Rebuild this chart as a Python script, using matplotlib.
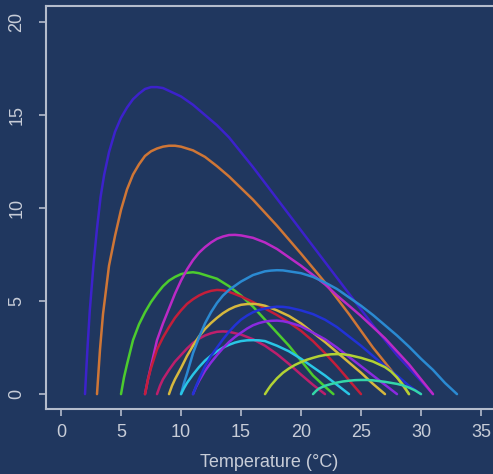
import matplotlib.pyplot as plt

plt.rcParams['font.family'] = ['Liberation Sans', 'DejaVu Sans']

bg = '#20375f'
fg = '#b4bccc'

# thermal performance curves, performance read at each temperature (deg C)
indigo_t = [2, 2.2, 2.4, 2.7, 3, 3.3, 3.6, 4, 4.5, 5, 5.5, 6, 6.5, 7, 7.5, 8, 8.5, 9, 10, 11, 12, 13, 14, 16, 18, 20, 22, 24, 26, 28, 29, 30, 31]
indigo_p = [0, 2.4, 4.5, 6.9, 8.9, 10.6, 11.8, 13.0, 14.1, 14.85, 15.4, 15.85, 16.15, 16.4, 16.5, 16.5, 16.45, 16.3, 16.0, 15.55, 15.0, 14.45, 13.8, 12.2, 10.5, 8.8, 7.1, 5.4, 3.7, 2.1, 1.4, 0.7, 0]

orange_t = [3, 3.25, 3.5, 4, 4.5, 5, 5.5, 6, 6.5, 7, 7.5, 8, 8.5, 9, 9.5, 10, 11, 12, 13, 14, 16, 18, 20, 22, 24, 26, 28, 29]
orange_p = [0, 2.4, 4.3, 6.9, 8.5, 9.9, 11.0, 11.8, 12.35, 12.8, 13.05, 13.2, 13.3, 13.35, 13.35, 13.3, 13.1, 12.75, 12.25, 11.7, 10.45, 9.05, 7.55, 6.0, 4.3, 2.5, 0.9, 0]

green_t = [5, 5.25, 5.5, 6, 6.5, 7, 7.5, 8, 8.5, 9, 9.5, 10, 10.5, 11, 11.5, 12, 13, 14, 15, 16, 17, 18, 19, 20, 21, 22, 22.7]
green_p = [0, 0.9, 1.6, 2.9, 3.75, 4.4, 4.95, 5.4, 5.8, 6.1, 6.3, 6.45, 6.52, 6.55, 6.5, 6.4, 6.2, 5.8, 5.3, 4.7, 4.0, 3.3, 2.6, 1.8, 1.0, 0.4, 0]

magenta_t = [7, 7.25, 7.5, 8, 8.5, 9, 9.5, 10, 10.5, 11, 11.5, 12, 12.5, 13, 13.5, 14, 14.5, 15, 16, 17, 18, 19, 20, 21, 22, 23, 24, 25, 26, 27, 28, 29, 30, 31]
magenta_p = [0, 0.8, 1.5, 2.9, 3.8, 4.6, 5.4, 6.1, 6.7, 7.2, 7.6, 7.9, 8.15, 8.35, 8.47, 8.55, 8.56, 8.53, 8.4, 8.15, 7.8, 7.35, 6.9, 6.4, 5.9, 5.3, 4.75, 4.2, 3.6, 3.0, 2.3, 1.6, 0.8, 0]

red_t = [7, 7.25, 7.5, 8, 8.5, 9, 9.5, 10, 10.5, 11, 11.5, 12, 12.5, 13, 13.5, 14, 15, 16, 17, 18, 19, 20, 21, 22, 23, 24, 25]
red_p = [0, 0.8, 1.4, 2.4, 3.05, 3.6, 4.1, 4.5, 4.85, 5.1, 5.3, 5.45, 5.55, 5.6, 5.58, 5.5, 5.25, 4.95, 4.6, 4.25, 3.85, 3.4, 2.85, 2.2, 1.5, 0.75, 0]

crimson_t = [8, 8.25, 8.5, 9, 9.5, 10, 10.5, 11, 11.5, 12, 12.5, 13, 13.5, 14, 15, 16, 17, 18, 19, 20, 21, 22]
crimson_p = [0, 0.45, 0.8, 1.3, 1.75, 2.1, 2.45, 2.75, 2.98, 3.15, 3.27, 3.35, 3.37, 3.35, 3.2, 2.95, 2.6, 2.15, 1.62, 1.05, 0.5, 0]

gold_t = [9, 9.25, 9.5, 10, 10.5, 11, 11.5, 12, 12.5, 13, 13.5, 14, 14.5, 15, 15.5, 16, 16.5, 17, 18, 19, 20, 21, 22, 23, 24, 25, 26, 27]
gold_p = [0, 0.45, 0.8, 1.4, 2.05, 2.6, 3.1, 3.5, 3.82, 4.1, 4.35, 4.55, 4.7, 4.8, 4.84, 4.85, 4.82, 4.75, 4.5, 4.2, 3.8, 3.3, 2.8, 2.25, 1.7, 1.15, 0.55, 0]

steel_t = [10, 10.25, 10.5, 11, 11.5, 12, 12.5, 13, 13.5, 14, 15, 16, 17, 17.5, 18, 18.5, 19, 20, 21, 22, 23, 24, 25, 26, 27, 28, 29, 30, 31, 32, 33]
steel_p = [0, 0.6, 1.1, 2.2, 3.05, 3.8, 4.4, 4.9, 5.3, 5.6, 6.05, 6.4, 6.6, 6.64, 6.66, 6.65, 6.6, 6.5, 6.3, 6.0, 5.65, 5.2, 4.75, 4.25, 3.7, 3.15, 2.55, 1.9, 1.3, 0.6, 0]

cyan_t = [10, 10.25, 10.5, 11, 11.5, 12, 12.5, 13, 13.5, 14, 14.5, 15, 15.5, 16, 16.5, 17, 18, 19, 20, 21, 22, 23, 24]
cyan_p = [0, 0.32, 0.6, 1.05, 1.45, 1.8, 2.07, 2.3, 2.5, 2.65, 2.77, 2.85, 2.89, 2.9, 2.89, 2.85, 2.6, 2.3, 1.9, 1.45, 1.0, 0.5, 0]

purple_t = [11, 11.25, 11.5, 12, 12.5, 13, 13.5, 14, 14.5, 15, 15.5, 16, 16.5, 17, 17.5, 18, 18.5, 19, 20, 21, 22, 23, 24, 25, 26, 27, 28]
purple_p = [0, 0.38, 0.7, 1.25, 1.7, 2.1, 2.47, 2.8, 3.07, 3.3, 3.52, 3.7, 3.82, 3.9, 3.94, 3.95, 3.92, 3.85, 3.65, 3.3, 2.95, 2.5, 2.0, 1.5, 1.0, 0.5, 0]

blue_t = [11, 11.25, 11.5, 12, 12.5, 13, 13.5, 14, 14.5, 15, 15.5, 16, 16.5, 17, 17.5, 18, 18.5, 19, 20, 21, 22, 23, 24, 25, 26, 27, 28, 29, 30]
blue_p = [0, 0.42, 0.8, 1.5, 2.05, 2.5, 2.95, 3.35, 3.7, 4.0, 4.22, 4.4, 4.52, 4.6, 4.66, 4.7, 4.69, 4.65, 4.5, 4.3, 4.0, 3.6, 3.1, 2.6, 2.05, 1.5, 1.0, 0.45, 0]

lime_t = [17, 17.25, 17.5, 18, 18.5, 19, 19.5, 20, 20.5, 21, 21.5, 22, 22.5, 23, 23.5, 24, 25, 26, 27, 27.5, 28, 28.5, 29]
lime_p = [0, 0.25, 0.48, 0.85, 1.15, 1.38, 1.57, 1.72, 1.85, 1.95, 2.04, 2.1, 2.14, 2.15, 2.14, 2.1, 1.95, 1.75, 1.45, 1.22, 0.9, 0.5, 0]

teal_t = [21, 21.25, 21.5, 22, 22.5, 23, 23.5, 24, 24.5, 25, 25.5, 26, 27, 28, 28.5, 29, 29.5, 30]
teal_p = [0, 0.17, 0.3, 0.45, 0.54, 0.62, 0.68, 0.72, 0.75, 0.76, 0.76, 0.74, 0.66, 0.55, 0.47, 0.35, 0.2, 0]

curves = [
    (indigo_t, indigo_p, '#3c22cc'),
    (orange_t, orange_p, '#cf7636'),
    (green_t, green_p, '#4ccc2e'),
    (magenta_t, magenta_p, '#bb2ac6'),
    (red_t, red_p, '#c41e3a'),
    (crimson_t, crimson_p, '#bd1f6c'),
    (gold_t, gold_p, '#d6b83e'),
    (steel_t, steel_p, '#2b8ad2'),
    (cyan_t, cyan_p, '#29c6e6'),
    (purple_t, purple_p, '#8a2ae0'),
    (blue_t, blue_p, '#2232d6'),
    (lime_t, lime_p, '#b2d234'),
    (teal_t, teal_p, '#34d6a8'),
]

W, H = 493, 474
fig = plt.figure(figsize=(W / 100, H / 100), dpi=100, facecolor=bg)
ax = fig.add_axes([46 / W, (H - 409) / H, (W - 46) / W, (409 - 6) / H])
ax.set_facecolor(bg)

for t, p, c in curves:
    ax.plot(t, p, color=c, lw=1.8, solid_capstyle='round', solid_joinstyle='round')

ax.set_xlim(-1.25, 36.0)
ax.set_ylim(-0.8, 20.86)
ax.set_xticks(range(0, 36, 5))
ax.set_yticks(range(0, 21, 5))
ax.tick_params(colors=fg, labelcolor='#c8cdd8', labelsize=13, length=5, width=1.2)
ax.tick_params(axis='x', pad=6)
ax.tick_params(axis='y', pad=10)
for lab in ax.get_yticklabels():
    lab.set_rotation(90)
    lab.set_va('center')

for side in ['left', 'top', 'bottom']:
    ax.spines[side].set_color(fg)
    ax.spines[side].set_linewidth(1.5)
ax.spines['right'].set_visible(False)

ax.set_xlabel('Temperature (°C)', color='#c8cdd8', fontsize=13, labelpad=9)

fig.savefig('out.png', dpi=100, facecolor=bg)
